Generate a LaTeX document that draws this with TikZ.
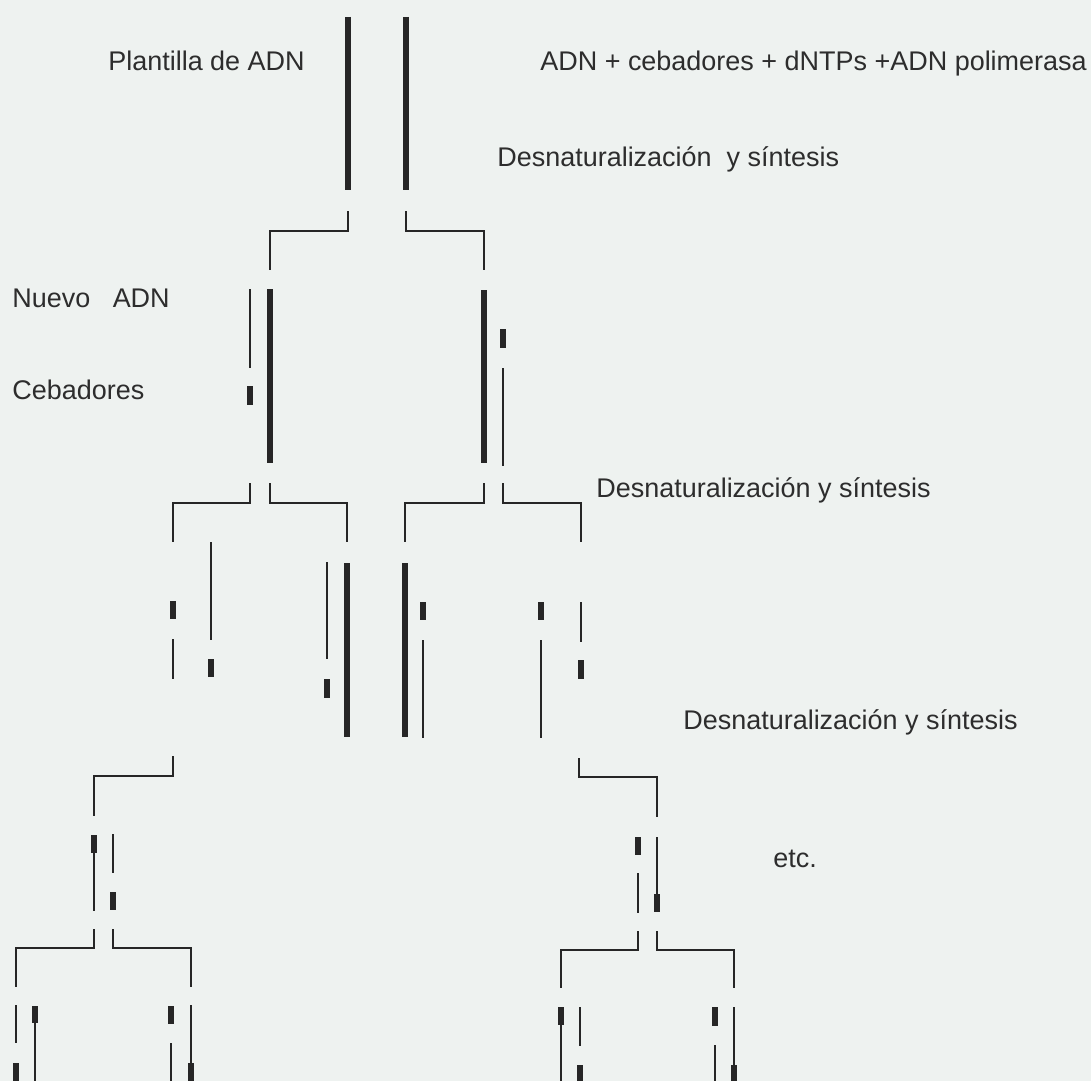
\documentclass[tikz,border=0pt]{standalone}
\usepackage{fontspec}
\setmainfont{Liberation Sans}
\usepackage{tikz}
\usetikzlibrary{positioning}
\definecolor{paper}{RGB}{238,242,240}
\definecolor{ink}{RGB}{38,38,38}
\definecolor{txt}{RGB}{45,45,45}

\begin{document}
\begin{tikzpicture}[x=0.02cm, y=-0.02cm,
  tmpl/.style={draw=ink, line width=3pt},
  nuevo/.style={draw=ink, line width=1.1pt},
  ceb/.style={draw=ink, line width=3.4pt},
  sep/.style={draw=ink, line width=1.1pt},
  lbl/.style={anchor=base west, inner sep=0pt, text=txt,
    font=\fontsize{15.35}{18}\selectfont}
]
\fill[paper] (0,0) rectangle (1091,1081);
\useasboundingbox (0,0) rectangle (1091,1081);

\node[lbl] (plantilla) at (108,71) {Plantilla de ADN};
\node[lbl] (mezcla) at (540,71) {ADN + cebadores + dNTPs +ADN polimerasa};
\node[lbl] (desnat1) at (497,167) {Desnaturalización \ y síntesis};
\node[lbl] (nuevo) at (12,307) {Nuevo \ \ ADN};
\node[lbl] (cebadores) at (12,399) {Cebadores};
\node[lbl] (desnat2) at (596,497) {Desnaturalización y síntesis};
\node[lbl] (desnat3) at (683,729) {Desnaturalización y síntesis};
\node[lbl] (etc) at (773,867) {etc.};

% ADN inicial
\draw[tmpl] (348,17) -- (348,190);
\draw[tmpl] (406,17) -- (406,190);

% ciclo 1
\draw[sep] (348,211) |- (270,231) -- (270,270);
\draw[sep] (406,211) |- (484,231) -- (484,270);
\draw[nuevo] (250,289) -- (250,368);
\draw[ceb] (250,386) -- (250,405);
\draw[tmpl] (270,289) -- (270,463);
\draw[tmpl] (484,290) -- (484,463);
\draw[ceb] (503,329) -- (503,348);
\draw[nuevo] (503,368) -- (503,466);

% ciclo 2
\draw[sep] (250,483) |- (173,503) -- (173,542);
\draw[sep] (270,483) |- (347,503) -- (347,542);
\draw[sep] (484,483) |- (405,503) -- (405,542);
\draw[sep] (503,483) |- (581,503) -- (581,542);
\draw[ceb] (173,601) -- (173,619);
\draw[nuevo] (173,639) -- (173,679);
\draw[nuevo] (211,542) -- (211,640);
\draw[ceb] (211,659) -- (211,677);
\draw[nuevo] (327,562) -- (327,659);
\draw[ceb] (327,679) -- (327,698);
\draw[tmpl] (347,563) -- (347,737);
\draw[tmpl] (405,563) -- (405,737);
\draw[ceb] (423,602) -- (423,620);
\draw[nuevo] (423,640) -- (423,738);
\draw[ceb] (541,602) -- (541,620);
\draw[nuevo] (541,640) -- (541,738);
\draw[nuevo] (581,602) -- (581,642);
\draw[ceb] (581,660) -- (581,679);

% ciclo 3
\draw[sep] (173,756) |- (94,776) -- (94,816);
\draw[sep] (579,758) |- (657,777) -- (657,817);
\draw[ceb] (94,835) -- (94,853);
\draw[nuevo] (94,853) -- (94,911);
\draw[nuevo] (113,834) -- (113,873);
\draw[ceb] (113,892) -- (113,910);
\draw[ceb] (638,837) -- (638,855);
\draw[nuevo] (638,873) -- (638,913);
\draw[nuevo] (657,837) -- (657,894);
\draw[ceb] (657,894) -- (657,912);

% ciclo 4
\draw[sep] (94,929) |- (16,948) -- (16,987);
\draw[sep] (113,929) |- (191,948) -- (191,987);
\draw[sep] (638,931) |- (561,950) -- (561,988);
\draw[sep] (657,931) |- (734,950) -- (734,988);
\draw[nuevo] (16,1005) -- (16,1043);
\draw[ceb] (16,1063) -- (16,1081);
\draw[ceb] (35,1006) -- (35,1023);
\draw[nuevo] (35,1023) -- (35,1081);
\draw[ceb] (171,1006) -- (171,1024);
\draw[nuevo] (171,1043) -- (171,1081);
\draw[nuevo] (191,1005) -- (191,1063);
\draw[ceb] (191,1063) -- (191,1081);
\draw[ceb] (561,1007) -- (561,1025);
\draw[nuevo] (561,1025) -- (561,1081);
\draw[nuevo] (580,1007) -- (580,1046);
\draw[ceb] (580,1065) -- (580,1081);
\draw[ceb] (715,1007) -- (715,1026);
\draw[nuevo] (715,1045) -- (715,1081);
\draw[nuevo] (734,1007) -- (734,1065);
\draw[ceb] (734,1065) -- (734,1081);
\end{tikzpicture}
\end{document}
